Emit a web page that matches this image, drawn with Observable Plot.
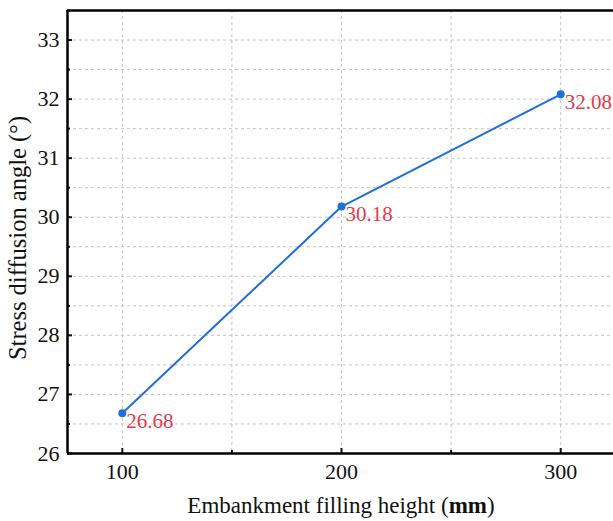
<!DOCTYPE html>
<html>
<head>
<meta charset="utf-8">
<script src="https://cdn.jsdelivr.net/npm/d3@7"></script>
<script src="https://cdn.jsdelivr.net/npm/@observablehq/plot@0.6"></script>
<style>
  html, body { margin: 0; padding: 0; background: #fff; }
  svg { display: block; }
  svg, svg text { font-family: "Liberation Serif", serif !important; }
</style>
</head>
<body>
<div id="chart"></div>
<script>
const heights = [100, 200, 300];
const angles = [26.68, 30.18, 32.08];
const xMajorTicks = [100, 200, 300];
const xMinorTicks = [150, 250];
const yMajorTicks = [26, 27, 28, 29, 30, 31, 32, 33];
const yMinorTicks = [26.5, 27.5, 28.5, 29.5, 30.5, 31.5, 32.5, 33.5];
const xLabelText = "Embankment filling height (";
const xLabelBold = "mm";
const yLabelText = "Stress diffusion angle (°)";

const data = heights.map((h, i) => ({h, a: angles[i]}));

const plot = Plot.plot({
  width: 613,
  height: 521,
  marginTop: 10,
  marginLeft: 67,
  marginRight: 0,
  marginBottom: 68,
  style: {fontSize: "22px", color: "#111", background: "#fff"},
  x: {domain: [75, 325], range: [67, 615]},
  y: {domain: [26, 33.5]},
  marks: [
    Plot.gridX(xMajorTicks.concat(xMinorTicks), {stroke: "#c4c4c4", strokeOpacity: 1, strokeDasharray: "3,3", strokeWidth: 1}),
    Plot.gridY(yMajorTicks.concat(yMinorTicks), {stroke: "#c4c4c4", strokeOpacity: 1, strokeDasharray: "3,3", strokeWidth: 1}),
    Plot.axisX(xMajorTicks, {tickSize: -5, tickPadding: 15, strokeWidth: 2, fontSize: 22, tickFormat: d => String(d), label: null}),
    Plot.axisX(xMinorTicks, {tickSize: -3, tickFormat: () => "", strokeWidth: 2, label: null}),
    Plot.axisY(yMajorTicks, {tickSize: -5, tickPadding: 13, strokeWidth: 2, fontSize: 22, tickFormat: d => String(d), label: null}),
    Plot.axisY(yMinorTicks.filter(v => v < 33.5), {tickSize: -3, tickFormat: () => "", strokeWidth: 2, label: null}),
    Plot.ruleX([75], {stroke: "#000", strokeWidth: 2.5}),
    Plot.ruleY([26], {stroke: "#000", strokeWidth: 2.5}),
    Plot.ruleY([33.5], {stroke: "#000", strokeWidth: 2.5}),
    Plot.line(data, {x: "h", y: "a", stroke: "#1f6fd8", strokeWidth: 2}),
    Plot.dot(data, {x: "h", y: "a", fill: "#1f6fd8", r: 4}),
    Plot.text(data, {x: "h", y: "a", text: d => d.a.toFixed(2), fill: "#e03c4c", fontSize: 21, textAnchor: "start", dx: 4, dy: 8})
  ]
});

const svg = d3.select(plot);
const xl = svg.append("text")
  .attr("x", 341).attr("y", 508)
  .attr("text-anchor", "middle")
  .attr("dominant-baseline", "middle")
  .attr("font-size", 23)
  .attr("fill", "#111");
xl.append("tspan").text(xLabelText);
xl.append("tspan").attr("font-weight", "bold").text(xLabelBold);
xl.append("tspan").text(")");

svg.append("text")
  .attr("transform", "translate(20,238) rotate(-90)")
  .attr("text-anchor", "middle")
  .attr("dominant-baseline", "middle")
  .attr("font-size", 24.5)
  .attr("fill", "#111")
  .text(yLabelText);

document.getElementById("chart").appendChild(plot);
</script>
</body>
</html>
